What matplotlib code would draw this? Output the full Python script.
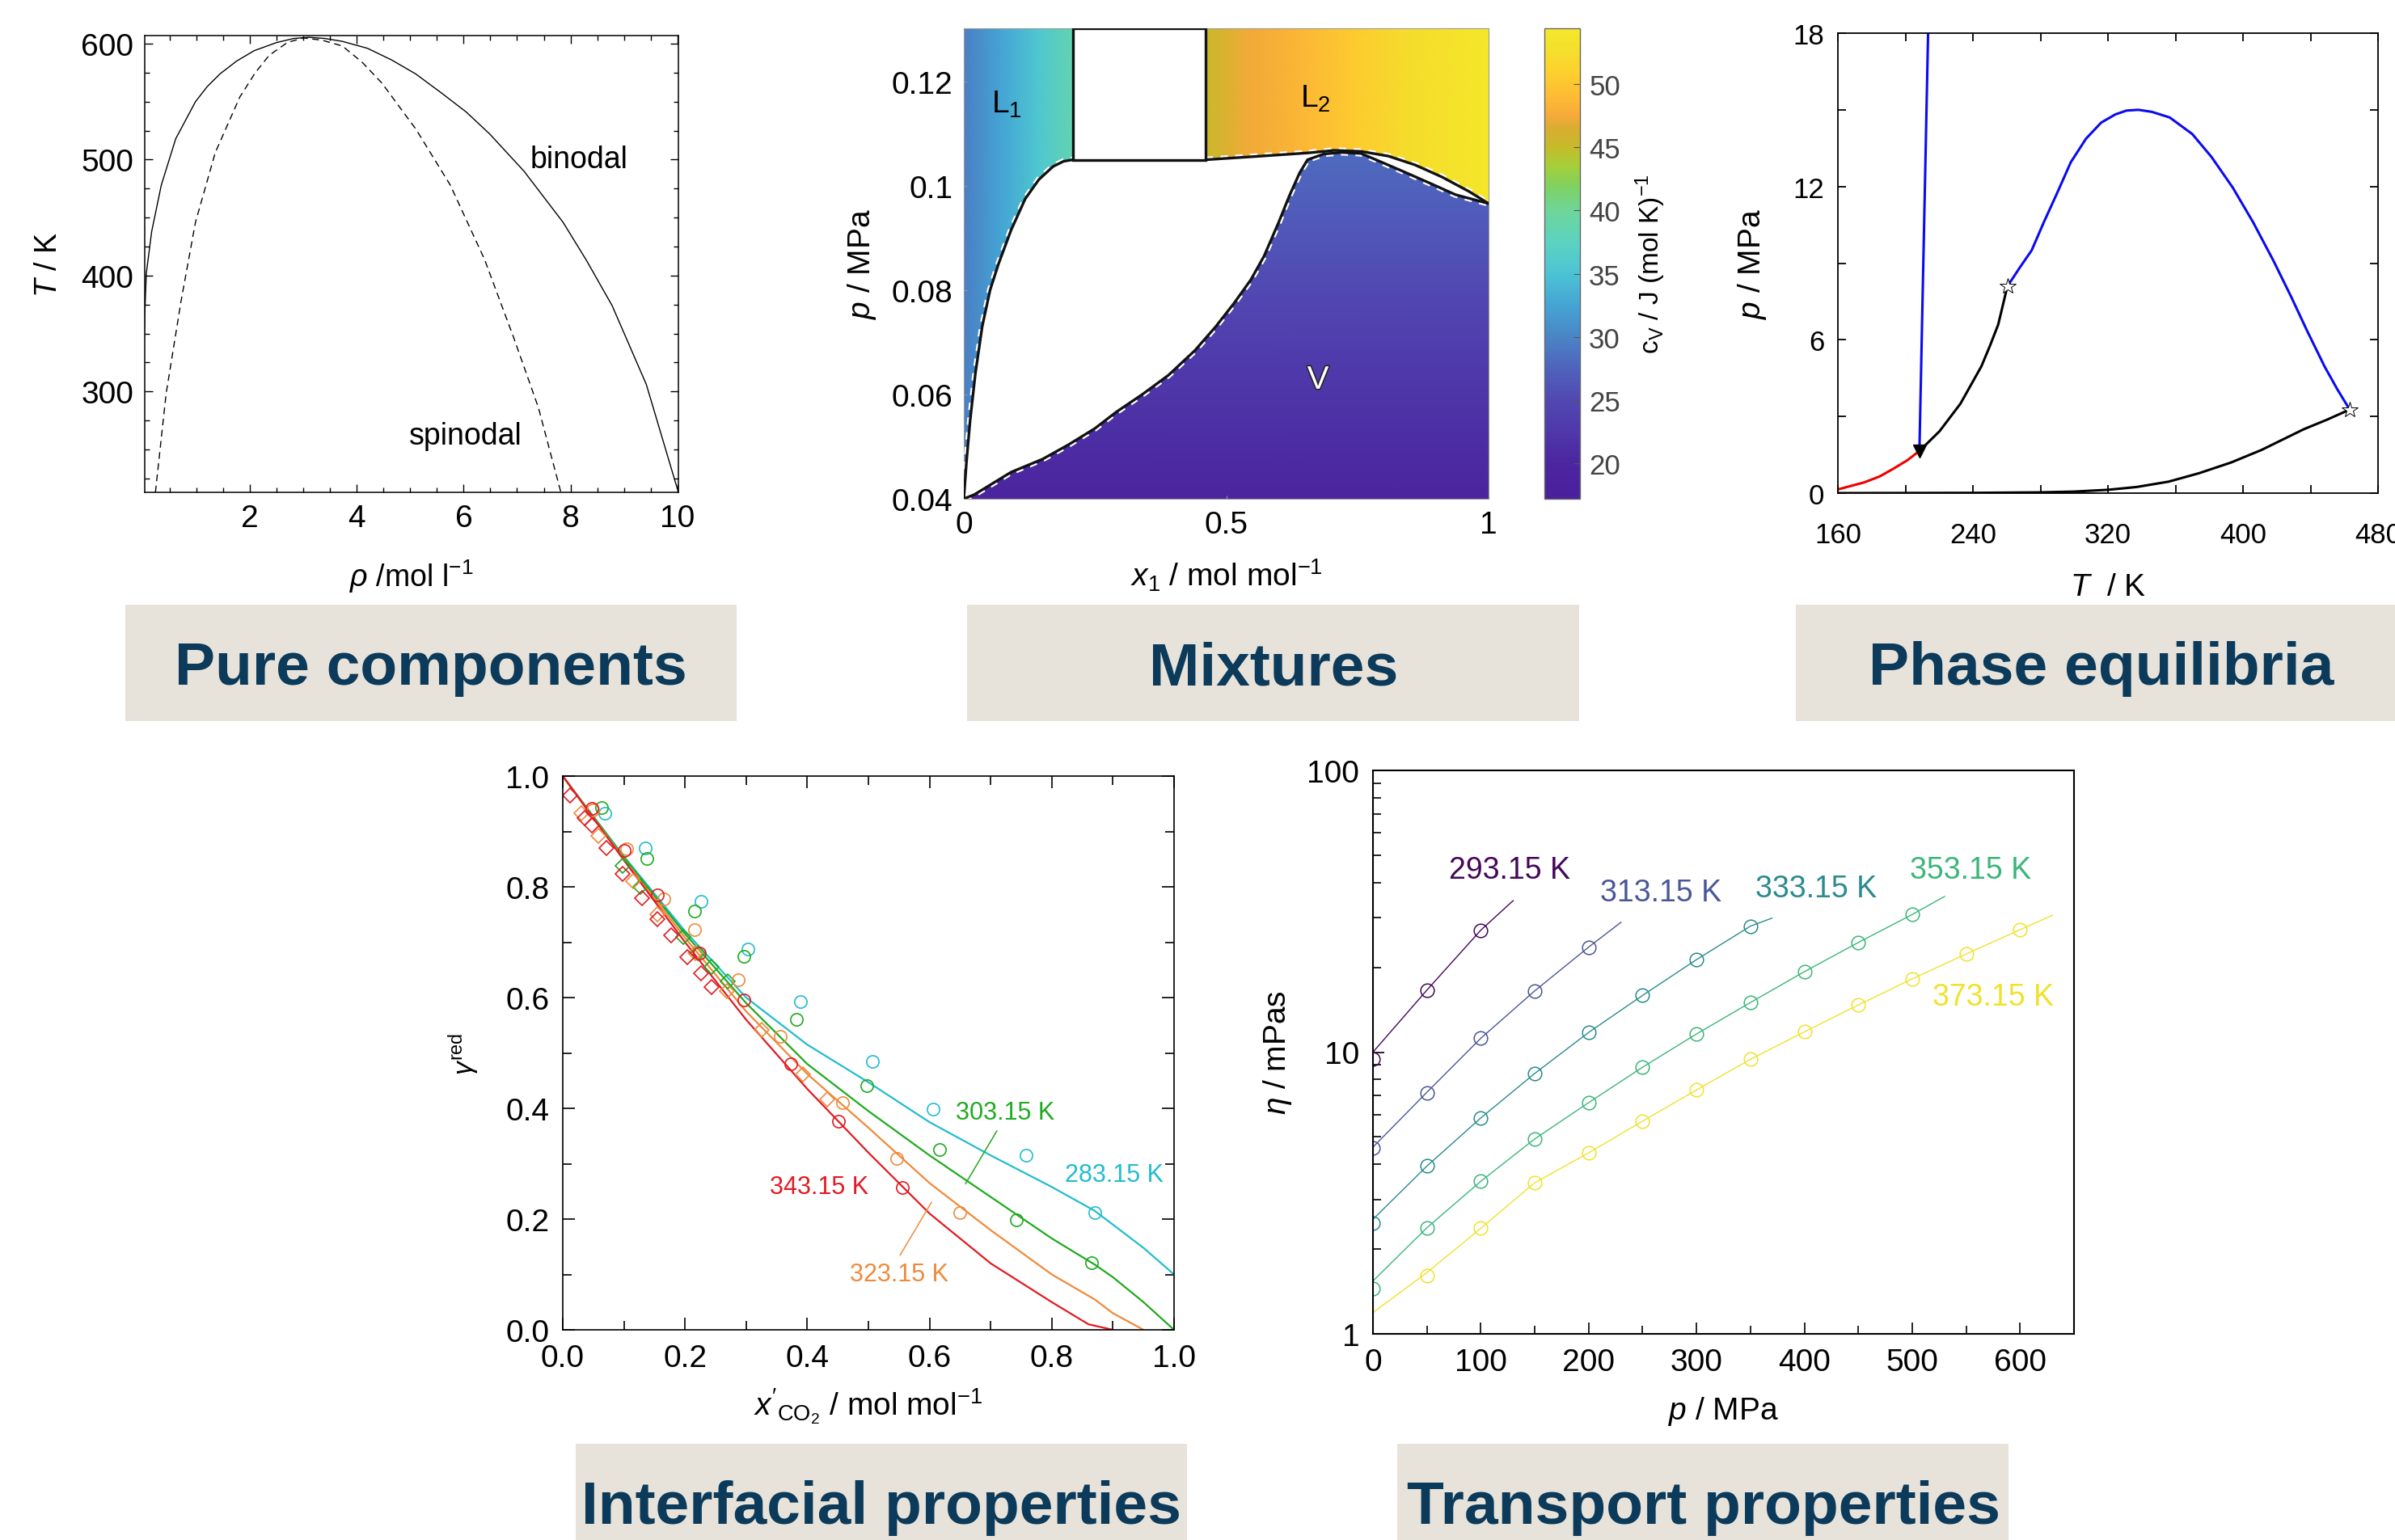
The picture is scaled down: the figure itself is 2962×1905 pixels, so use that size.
import numpy as np
import matplotlib
matplotlib.use('Agg')
import matplotlib.pyplot as plt
from matplotlib.patches import Rectangle, Polygon
from matplotlib.colors import LinearSegmentedColormap, Normalize
from matplotlib.ticker import MultipleLocator, FixedLocator, NullFormatter
import matplotlib.patheffects as pe

plt.rcParams['font.family'] = ['Liberation Sans', 'DejaVu Sans']
plt.rcParams['mathtext.fontset'] = 'custom'
plt.rcParams['mathtext.rm'] = 'Liberation Sans'
plt.rcParams['mathtext.it'] = 'Liberation Sans:italic'
plt.rcParams['mathtext.bf'] = 'Liberation Sans:bold'

# ---------------- pure components (binodal / spinodal) ----------------
binodal_rho = [0.0, 0.03, 0.06, 0.16, 0.34, 0.61, 0.98, 1.2, 1.44, 1.75, 2.08, 2.5, 2.82, 3.1, 3.4, 3.73,
               4.2, 4.65, 5.1, 5.57, 6.05, 6.49, 7.13, 7.86, 8.3, 8.78, 9.42, 10.02]
binodal_T = [300, 366, 402, 438, 478, 518, 550, 563, 574, 585, 594, 601, 604.5, 605.5, 604.5, 602,
             596, 586, 574, 558, 541, 522, 490, 446, 413, 374, 306, 213]
spinodal_rho = [0.23, 0.43, 0.71, 0.98, 1.35, 1.81, 2.1, 2.36, 2.7, 3.0, 3.35, 3.73, 4.1, 4.47, 5.11,
                5.75, 6.39, 6.94, 7.40, 7.82]
spinodal_T = [213, 298, 378, 446, 506, 554, 575, 590, 601, 605, 603, 598, 584, 566, 526,
              478, 414, 346, 286, 213]

# ---------------- mixtures (cv map) ----------------
cv_nodes = [17.2, 20, 22.5, 25, 27.5, 30, 32.5, 35, 37.5, 40, 42, 43.5, 45, 46.5, 47.5, 49, 51, 53, 54.4]
cv_colors = ['#4a209b', '#4b26a0', '#4f38aa', '#5148b2', '#4f63bc', '#4a85c6', '#45a4d4', '#4cc3d5',
             '#5cd3c0', '#6ed69a', '#80d15e', '#a5cf3a', '#c5bb2a', '#d8ad30', '#f6aa3a', '#fdbb35',
             '#fdd02e', '#f3e12c', '#f5e82a']
cv_ticks = [20, 25, 30, 35, 40, 45, 50]

l1_curve_x = [0.0, 0.005, 0.012, 0.022, 0.035, 0.05, 0.066, 0.09, 0.117, 0.143, 0.17, 0.19, 0.208]
l1_curve_p = [0.040, 0.047, 0.055, 0.064, 0.073, 0.080, 0.0850, 0.0915, 0.0975, 0.1012, 0.1037, 0.1047, 0.105]
v_curve_x = [0.0, 0.02, 0.09, 0.15, 0.2, 0.25, 0.29, 0.34, 0.39, 0.44, 0.48, 0.515, 0.547, 0.572, 0.60,
             0.62, 0.64, 0.655, 0.686, 0.72, 0.757, 0.783, 0.834, 0.886, 0.937, 1.0]
v_curve_p = [0.040, 0.0408, 0.0451, 0.0476, 0.0504, 0.0535, 0.0566, 0.0600, 0.0637, 0.0684, 0.0730, 0.0775,
             0.0820, 0.0865, 0.0930, 0.0980, 0.1025, 0.1050, 0.1061, 0.1064, 0.1062, 0.1051, 0.1029, 0.1006,
             0.0983, 0.0966]
l2_curve_x = [0.461, 0.552, 0.655, 0.706, 0.757, 0.809, 0.860, 0.911, 0.963, 1.0]
l2_curve_p = [0.105, 0.1056, 0.1063, 0.1068, 0.1066, 0.1057, 0.1040, 0.1017, 0.0989, 0.0966]
three_phase_x = [0.208, 0.461]
three_phase_p = 0.105

v_field_p = [0.04, 0.06, 0.08, 0.10, 0.108]
v_field_cv = [19.0, 22.0, 25.0, 27.5, 28.3]
l1_field_x = [0.0, 0.07, 0.14, 0.208]
l1_field_cv = [29.5, 32.5, 35.5, 38.5]
l2_field_x = [0.461, 0.55, 0.65, 0.75, 0.85, 1.0]
l2_field_cv = [45.3, 47.3, 48.6, 50.5, 52.5, 54.0]

# ---------------- phase equilibria ----------------
red_T = [160, 175.6, 185, 193, 201, 208.3]
red_p = [0.145, 0.42, 0.66, 0.96, 1.28, 1.65]
blue_steep_T = [208.3, 213.6]
blue_steep_p = [1.65, 18.5]
black_upper_T = [208.3, 220.2, 232.6, 245, 250, 255, 260.4]
black_upper_p = [1.65, 2.42, 3.5, 4.96, 5.75, 6.6, 8.09]
blue_arc_T = [260.4, 268, 274.8, 282, 289.6, 298, 307, 316, 324.4, 331, 338, 346, 356.6, 370, 381.4,
              394, 406, 418, 428.5, 438, 448.3, 456, 463.2]
blue_arc_p = [8.09, 8.85, 9.5, 10.6, 11.7, 12.95, 13.87, 14.5, 14.82, 14.97, 15.0, 14.92, 14.7, 14.05,
              13.15, 11.95, 10.6, 9.1, 7.69, 6.35, 4.96, 4.05, 3.27]
black_lower_T = [160, 240, 280, 300, 320, 337, 356, 374, 393, 411, 436, 450, 463.2]
black_lower_p = [0.0, 0.01, 0.03, 0.06, 0.13, 0.24, 0.45, 0.78, 1.2, 1.69, 2.5, 2.88, 3.27]
crit_T = [260.4, 463.2]
crit_p = [8.09, 3.27]
triple_T = [208.3]
triple_p = [1.65]

# ---------------- interfacial properties ----------------
gam_x = [0.0, 0.1, 0.2, 0.3, 0.4, 0.5, 0.6, 0.7, 0.8, 0.87, 0.9, 0.95, 1.0]
gam_283 = [1.0, 0.855, 0.72, 0.60, 0.515, 0.447, 0.375, 0.315, 0.258, 0.215, 0.19, 0.148, 0.10]
gam_303 = [1.0, 0.853, 0.715, 0.59, 0.48, 0.395, 0.315, 0.24, 0.165, 0.118, 0.095, 0.05, 0.0]
gam_323 = [1.0, 0.85, 0.708, 0.575, 0.462, 0.365, 0.265, 0.18, 0.10, 0.055, 0.03, 0.0]
gam_323_x = [0.0, 0.1, 0.2, 0.3, 0.4, 0.5, 0.6, 0.7, 0.8, 0.87, 0.9, 0.95]
gam_343 = [1.0, 0.848, 0.70, 0.56, 0.435, 0.32, 0.21, 0.12, 0.05, 0.01, 0.0]
gam_343_x = [0.0, 0.1, 0.2, 0.3, 0.4, 0.5, 0.6, 0.7, 0.8, 0.86, 0.9]

c283_x = [0.069, 0.135, 0.226, 0.303, 0.389, 0.506, 0.606, 0.758, 0.870]
c283_y = [0.933, 0.870, 0.773, 0.688, 0.593, 0.485, 0.398, 0.315, 0.211]
c303_x = [0.063, 0.138, 0.215, 0.296, 0.382, 0.498, 0.616, 0.742, 0.865]
c303_y = [0.943, 0.851, 0.756, 0.675, 0.561, 0.441, 0.325, 0.199, 0.121]
d303_x = [0.098, 0.127, 0.197, 0.221, 0.243, 0.270]
d303_y = [0.838, 0.800, 0.709, 0.680, 0.656, 0.629]
c323_x = [0.049, 0.104, 0.166, 0.215, 0.287, 0.356, 0.458, 0.546, 0.650]
c323_y = [0.939, 0.868, 0.778, 0.722, 0.632, 0.530, 0.410, 0.309, 0.211]
d323_x = [0.030, 0.058, 0.115, 0.155, 0.217, 0.268, 0.325, 0.393, 0.433]
d323_y = [0.933, 0.892, 0.810, 0.751, 0.680, 0.612, 0.542, 0.461, 0.416]
c343_x = [0.047, 0.100, 0.155, 0.224, 0.296, 0.373, 0.451, 0.555]
c343_y = [0.941, 0.865, 0.785, 0.680, 0.595, 0.480, 0.377, 0.257]
d343_x = [0.012, 0.036, 0.047, 0.071, 0.098, 0.129, 0.155, 0.177, 0.204, 0.226, 0.243]
d343_y = [0.965, 0.924, 0.911, 0.870, 0.824, 0.780, 0.741, 0.712, 0.673, 0.644, 0.619]

# ---------------- transport properties ----------------
visc_p_exp = [0, 50, 100, 150, 200, 250, 300, 350, 400, 450, 500, 550, 600]
eta_293 = [9.46, 16.6, 27.1]
eta_313 = [4.56, 7.18, 11.2, 16.5, 23.6]
eta_333 = [2.48, 3.94, 5.84, 8.4, 11.75, 15.9, 21.3, 28.0]
eta_353 = [1.45, 2.38, 3.48, 4.92, 6.62, 8.84, 11.6, 15.0, 19.3, 24.5, 30.8]
eta_373 = [1.61, 2.37, 3.44, 4.39, 5.69, 7.34, 9.43, 11.8, 14.7, 18.2, 22.3, 27.2]
fit_293_p = [0, 50, 100, 130]
fit_293 = [10.0, 16.6, 27.1, 34.5]
fit_313_p = [0, 50, 100, 150, 200, 230]
fit_313 = [4.6, 7.2, 11.2, 16.5, 23.6, 28.9]
fit_333_p = [0, 50, 100, 150, 200, 250, 300, 350, 370]
fit_333 = [2.55, 3.94, 5.84, 8.4, 11.75, 15.9, 21.3, 28.0, 29.9]
fit_353_p = [0, 50, 100, 150, 200, 250, 300, 350, 400, 450, 500, 530]
fit_353 = [1.54, 2.38, 3.48, 4.92, 6.62, 8.84, 11.6, 15.0, 19.3, 24.5, 30.8, 35.7]
fit_373_p = [0, 50, 100, 150, 200, 250, 300, 350, 400, 450, 500, 550, 600, 630]
fit_373 = [1.19, 1.65, 2.37, 3.44, 4.39, 5.69, 7.34, 9.43, 11.8, 14.7, 18.2, 22.3, 27.2, 30.6]

W, H = 2962, 1906
DPI = 100
BANNER_BG = '#e8e3da'
BANNER_FG = '#0b3a5a'
TICK = 28


def px_axes(fig, x0, y0, x1, y1):
    return fig.add_axes([x0 / W, 1 - y1 / H, (x1 - x0) / W, (y1 - y0) / H])


def banner(fig, x0, y0, x1, y1, text, cx, base):
    fig.add_artist(Rectangle((x0 / W, 1 - y1 / H), (x1 - x0) / W, (y1 - y0) / H,
                             transform=fig.transFigure, facecolor=BANNER_BG, edgecolor='none', zorder=0))
    fig.text(cx / W, 1 - base / H, text, ha='center', va='baseline', fontsize=54,
             fontweight='bold', color=BANNER_FG)


fig = plt.figure(figsize=(W / DPI, H / DPI), dpi=DPI)

# ===== panel 1 =====
ax1 = px_axes(fig, 179, 45, 839, 610)
ax1.plot(binodal_rho, binodal_T, color='k', lw=1.0)
ax1.plot(spinodal_rho, spinodal_T, color='k', lw=1.0, ls=(0, (6, 4)))
ax1.set_xlim(0.03, 10.02)
ax1.set_ylim(213, 607)
ax1.xaxis.set_major_locator(FixedLocator([2, 4, 6, 8, 10]))
ax1.xaxis.set_minor_locator(MultipleLocator(0.5))
ax1.yaxis.set_major_locator(MultipleLocator(100))
ax1.yaxis.set_minor_locator(MultipleLocator(25))
ax1.tick_params(which='both', direction='in', top=True, right=True, labelsize=TICK, width=1.0)
ax1.tick_params(which='major', length=7, pad=10)
ax1.tick_params(which='minor', length=4)
for s in ax1.spines.values():
    s.set_linewidth(1.1)
ax1.text(8.16, 500, 'binodal', fontsize=27, ha='center', va='center')
ax1.text(6.03, 262, 'spinodal', fontsize=27, ha='center', va='center')
ax1.set_xlabel(r'$\rho$ /mol l$^{-1}$', fontsize=27, labelpad=22)
ax1.set_ylabel(r'$T$ / K', fontsize=27, labelpad=16)
banner(fig, 155, 749, 911, 893, 'Pure components', 533, 847)

# ===== panel 2 =====
ax2 = px_axes(fig, 1192, 36, 1841, 618)
vmin, vmax = cv_nodes[0], cv_nodes[-1]
pos = [(v - vmin) / (vmax - vmin) for v in cv_nodes]
cmap = LinearSegmentedColormap.from_list('cv', list(zip(pos, cv_colors)))
norm = Normalize(vmin, vmax)

# vapour region
X, Y = np.meshgrid([0.0, 1.0], v_field_p)
C = np.tile(np.array(v_field_cv)[:, None], (1, 2))
mesh_v = ax2.pcolormesh(X, Y, C, shading='gouraud', cmap=cmap, norm=norm)
poly_v = Polygon(list(zip(v_curve_x, v_curve_p)) + [(1.0, 0.04)], closed=True,
                 facecolor='none', edgecolor='none')
ax2.add_patch(poly_v)
mesh_v.set_clip_path(poly_v)

# L1 region
X, Y = np.meshgrid(l1_field_x, [0.04, 0.13])
C = np.tile(np.array(l1_field_cv)[None, :], (2, 1))
mesh_l1 = ax2.pcolormesh(X, Y, C, shading='gouraud', cmap=cmap, norm=norm)
poly_l1 = Polygon([(0.0, 0.13)] + list(zip(l1_curve_x, l1_curve_p)) + [(0.208, 0.13)], closed=True,
                  facecolor='none', edgecolor='none')
ax2.add_patch(poly_l1)
mesh_l1.set_clip_path(poly_l1)

# L2 region
X, Y = np.meshgrid(l2_field_x, [0.09, 0.13])
C = np.tile(np.array(l2_field_cv)[None, :], (2, 1))
mesh_l2 = ax2.pcolormesh(X, Y, C, shading='gouraud', cmap=cmap, norm=norm)
poly_l2 = Polygon([(0.461, 0.13)] + list(zip(l2_curve_x, l2_curve_p)) + [(1.0, 0.13)], closed=True,
                  facecolor='none', edgecolor='none')
ax2.add_patch(poly_l2)
mesh_l2.set_clip_path(poly_l2)

for cx, cp in [(l1_curve_x, l1_curve_p), (v_curve_x, v_curve_p), (l2_curve_x, l2_curve_p)]:
    ax2.plot(cx, cp, color='white', lw=5.5, ls=(0, (1.2, 1.2)), zorder=3)
    ax2.plot(cx, cp, color='#111111', lw=2.4, zorder=4, solid_capstyle='round', solid_joinstyle='round')
ax2.add_patch(Rectangle((three_phase_x[0], three_phase_p), three_phase_x[1] - three_phase_x[0], 0.0252,
                        facecolor='white', edgecolor='#111111', lw=2.4, zorder=4))
ax2.text(0.082, 0.1158, r'L$_1$', fontsize=28, ha='center', va='center', zorder=5)
ax2.text(0.670, 0.1168, r'L$_2$', fontsize=28, ha='center', va='center', zorder=5)
ax2.text(0.675, 0.0628, 'V', fontsize=29, ha='center', va='center', color='white', zorder=5,
         path_effects=[pe.withStroke(linewidth=2.2, foreground='#222222')])
ax2.set_xlim(0, 1)
ax2.set_ylim(0.04, 0.1302)
ax2.set_xticks([0, 0.5, 1])
ax2.set_xticklabels(['0', '0.5', '1'])
ax2.set_yticks([0.04, 0.06, 0.08, 0.1, 0.12])
ax2.set_yticklabels(['0.04', '0.06', '0.08', '0.1', '0.12'])
ax2.tick_params(direction='in', length=3, color='#999999', labelsize=TICK, pad=10)
for s in ax2.spines.values():
    s.set_color('#9a9a9a')
    s.set_linewidth(0.8)
ax2.set_xlabel(r'$x_1$ / mol mol$^{-1}$', fontsize=28, labelpad=16)
ax2.set_ylabel(r'$p$ / MPa', fontsize=28, labelpad=12)

cax = px_axes(fig, 1910, 36, 1954, 618)
sm = plt.cm.ScalarMappable(norm=norm, cmap=cmap)
cb = fig.colorbar(sm, cax=cax, ticks=cv_ticks)
cb.outline.set_edgecolor('#666666')
cb.outline.set_linewidth(1.0)
cax.tick_params(direction='in', length=6, color='#555555', labelsize=25, labelcolor='#444444', pad=8)
cb.set_label(r'c$_\mathrm{V}$ / J (mol K)$^{-1}$', fontsize=24, labelpad=12)
banner(fig, 1196, 749, 1953, 893, 'Mixtures', 1575, 847)

# ===== panel 3 =====
ax3 = px_axes(fig, 2273, 42, 2941, 611)
ax3.plot(black_lower_T, black_lower_p, color='k', lw=2.2)
ax3.plot(red_T, red_p, color='#ee0000', lw=2.2)
ax3.plot(black_upper_T, black_upper_p, color='k', lw=2.2)
ax3.plot(blue_arc_T, blue_arc_p, color='#0a0af0', lw=2.2)
ax3.plot(blue_steep_T, blue_steep_p, color='#0a0af0', lw=2.2)
ax3.plot(triple_T, triple_p, marker='v', color='k', ms=12, ls='none', zorder=5)
ax3.plot(crit_T, crit_p, marker='*', mfc='white', mec='k', mew=0.7, ms=15, ls='none', zorder=5)
ax3.set_xlim(160, 480)
ax3.set_ylim(0, 18)
ax3.xaxis.set_major_locator(MultipleLocator(80))
ax3.xaxis.set_minor_locator(MultipleLocator(40))
ax3.yaxis.set_major_locator(MultipleLocator(6))
ax3.yaxis.set_minor_locator(MultipleLocator(3))
ax3.tick_params(which='both', direction='in', top=True, right=True, length=7, width=1.3, labelsize=25)
ax3.tick_params(which='major', pad=25)
ax3.tick_params(axis='y', which='major', pad=12)
for s in ax3.spines.values():
    s.set_linewidth(1.3)
ax3.set_xlabel(r'$T$  / K', fontsize=28, labelpad=22)
ax3.set_ylabel(r'$p$ / MPa', fontsize=28, labelpad=22)
banner(fig, 2221, 749, 2962, 893, 'Phase equilibria', 2599, 847)

# ===== panel 4 =====
ax4 = px_axes(fig, 696, 961, 1452, 1646)
col283, col303, col323, col343 = '#22bccf', '#1faa1f', '#ee8a3c', '#e11b22'
ax4.plot(gam_x, gam_283, color=col283, lw=1.6)
ax4.plot(gam_x, gam_303, color=col303, lw=1.6)
ax4.plot(gam_323_x, gam_323, color=col323, lw=1.6)
ax4.plot(gam_343_x, gam_343, color=col343, lw=1.6)
mk = dict(ls='none', mfc='none', mew=1.2)
ax4.plot(c283_x, c283_y, marker='o', ms=11, mec=col283, **mk)
ax4.plot(c303_x, c303_y, marker='o', ms=11, mec=col303, **mk)
ax4.plot(d303_x, d303_y, marker='D', ms=9.5, mec=col303, **mk)
ax4.plot(c323_x, c323_y, marker='o', ms=11, mec=col323, **mk)
ax4.plot(d323_x, d323_y, marker='D', ms=9.5, mec=col323, **mk)
ax4.plot(c343_x, c343_y, marker='o', ms=11, mec=col343, **mk)
ax4.plot(d343_x, d343_y, marker='D', ms=9.5, mec=col343, **mk)
ax4.plot([0.710, 0.659], [0.359, 0.264], color=col303, lw=1.1)
ax4.plot([0.603, 0.552], [0.230, 0.135], color=col323, lw=1.1)
ax4.text(0.724, 0.393, '303.15 K', color=col303, fontsize=22, ha='center', va='center')
ax4.text(0.902, 0.280, '283.15 K', color=col283, fontsize=22, ha='center', va='center')
ax4.text(0.550, 0.101, '323.15 K', color=col323, fontsize=22, ha='center', va='center')
ax4.text(0.419, 0.258, '343.15 K', color=col343, fontsize=22, ha='center', va='center')
ax4.set_xlim(0, 1)
ax4.set_ylim(0, 1)
ax4.xaxis.set_major_locator(MultipleLocator(0.2))
ax4.xaxis.set_minor_locator(MultipleLocator(0.1))
ax4.yaxis.set_major_locator(MultipleLocator(0.2))
ax4.yaxis.set_minor_locator(MultipleLocator(0.1))
ax4.xaxis.set_major_formatter(plt.FormatStrFormatter('%.1f'))
ax4.yaxis.set_major_formatter(plt.FormatStrFormatter('%.1f'))
ax4.tick_params(which='both', direction='in', top=True, right=True, width=1.2, labelsize=TICK)
ax4.tick_params(which='major', length=11, pad=12)
ax4.tick_params(which='minor', length=8)
for s in ax4.spines.values():
    s.set_linewidth(1.2)
ax4.set_xlabel(r"$x'_{\mathrm{CO_2}}$ / mol mol$^{-1}$", fontsize=28, labelpad=12)
ax4.set_ylabel(r'$\gamma^{\mathrm{red}}$', fontsize=24, labelpad=22)
banner(fig, 712, 1787, 1468, 1906, 'Interfacial properties', 1090, 1885)

# ===== panel 5 =====
ax5 = px_axes(fig, 1698, 954, 2565, 1651)
vcols = ['#45065a', '#4a5796', '#2a8a8e', '#3bb679', '#f0e22c']
fits = [(fit_293_p, fit_293), (fit_313_p, fit_313), (fit_333_p, fit_333), (fit_353_p, fit_353),
        (fit_373_p, fit_373)]
exps = [(visc_p_exp[:3], eta_293), (visc_p_exp[:5], eta_313), (visc_p_exp[:8], eta_333),
        (visc_p_exp[:11], eta_353), (visc_p_exp[1:], eta_373)]
for col, (fp, fe), (ep, ee) in zip(vcols, fits, exps):
    ax5.plot(fp, fe, color=col, lw=1.0)
    ax5.plot(ep, ee, ls='none', marker='o', ms=12, mfc='none', mec=col, mew=1.1)
ax5.text(127, 44.5, '293.15 K', color=vcols[0], fontsize=27, ha='center', va='center')
ax5.text(267, 36.8, '313.15 K', color=vcols[1], fontsize=27, ha='center', va='center')
ax5.text(411, 38.0, '333.15 K', color=vcols[2], fontsize=27, ha='center', va='center')
ax5.text(554, 44.3, '353.15 K', color=vcols[3], fontsize=27, ha='center', va='center')
ax5.text(575, 15.7, '373.15 K', color=vcols[4], fontsize=27, ha='center', va='center')
ax5.set_yscale('log')
ax5.set_xlim(0, 650)
ax5.set_ylim(1, 100)
ax5.set_yticks([1, 10, 100])
ax5.set_yticklabels(['1', '10', '100'])
ax5.yaxis.set_minor_formatter(NullFormatter())
ax5.xaxis.set_major_locator(FixedLocator([0, 100, 200, 300, 400, 500, 600]))
ax5.xaxis.set_minor_locator(MultipleLocator(50))
ax5.tick_params(which='both', direction='in', width=1.2, labelsize=TICK)
ax5.tick_params(which='major', length=10, pad=12)
ax5.tick_params(which='minor', length=7)
for s in ax5.spines.values():
    s.set_linewidth(1.5)
ax5.set_xlabel(r'$p$ / MPa', fontsize=28, labelpad=16)
ax5.set_ylabel(r'$\eta$ / mPas', fontsize=28, labelpad=12)
banner(fig, 1728, 1787, 2484, 1906, 'Transport properties', 2107, 1885)

fig.savefig('out.png', dpi=DPI)
